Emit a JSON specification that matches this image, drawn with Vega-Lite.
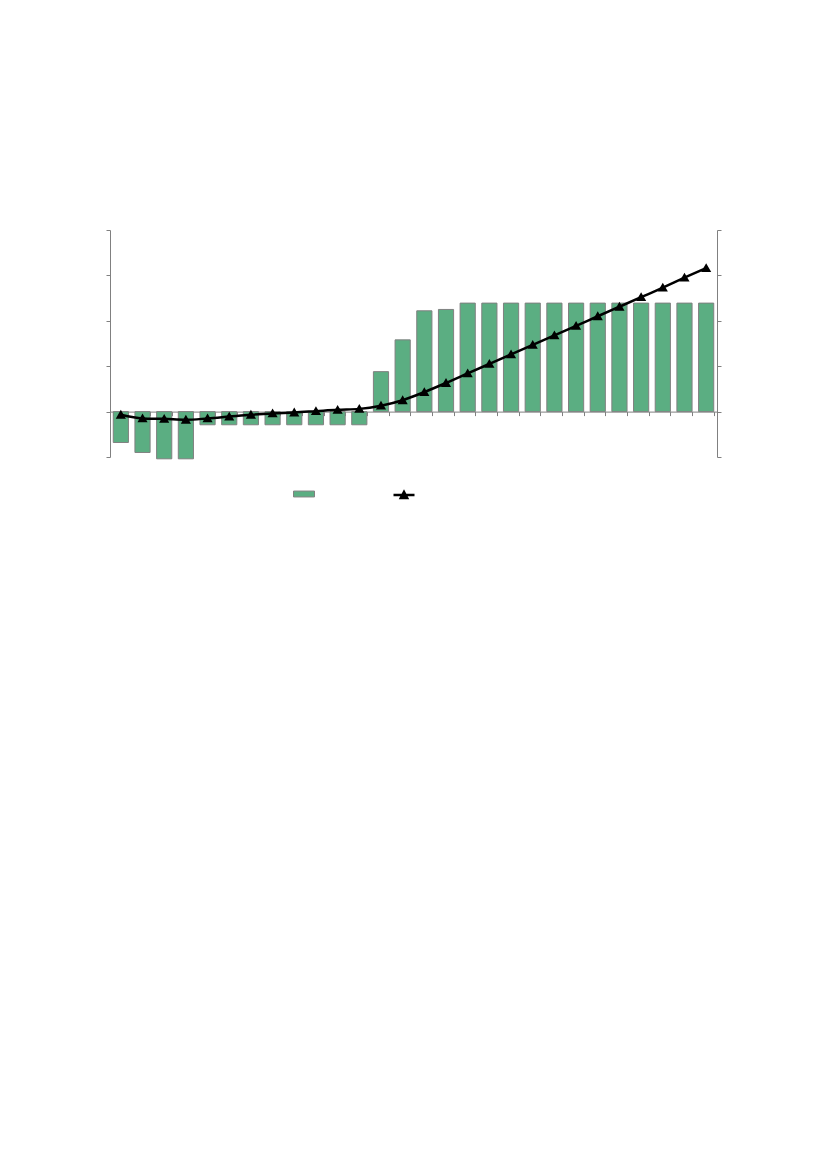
{
  "$schema": "https://vega.github.io/schema/vega-lite/v6.json",
  "autosize": "none",
  "padding": {"left": 110, "top": 230, "right": 110, "bottom": 712},
  "width": 607,
  "height": 227,
  "background": "white",
  "data": {
    "values": [
      {"i": 1, "bar": -0.68, "line": -0.07},
      {"i": 2, "bar": -0.9, "line": -0.15},
      {"i": 3, "bar": -1.04, "line": -0.16},
      {"i": 4, "bar": -1.04, "line": -0.18},
      {"i": 5, "bar": -0.29, "line": -0.15},
      {"i": 6, "bar": -0.29, "line": -0.11},
      {"i": 7, "bar": -0.29, "line": -0.07},
      {"i": 8, "bar": -0.29, "line": -0.04},
      {"i": 9, "bar": -0.29, "line": -0.02},
      {"i": 10, "bar": -0.29, "line": 0.01},
      {"i": 11, "bar": -0.29, "line": 0.04},
      {"i": 12, "bar": -0.29, "line": 0.06},
      {"i": 13, "bar": 0.88, "line": 0.13},
      {"i": 14, "bar": 1.58, "line": 0.25},
      {"i": 15, "bar": 2.22, "line": 0.43},
      {"i": 16, "bar": 2.25, "line": 0.63},
      {"i": 17, "bar": 2.39, "line": 0.84},
      {"i": 18, "bar": 2.39, "line": 1.05},
      {"i": 19, "bar": 2.39, "line": 1.26},
      {"i": 20, "bar": 2.39, "line": 1.47},
      {"i": 21, "bar": 2.39, "line": 1.68},
      {"i": 22, "bar": 2.39, "line": 1.89},
      {"i": 23, "bar": 2.39, "line": 2.1},
      {"i": 24, "bar": 2.39, "line": 2.31},
      {"i": 25, "bar": 2.39, "line": 2.52},
      {"i": 26, "bar": 2.39, "line": 2.73},
      {"i": 27, "bar": 2.39, "line": 2.95},
      {"i": 28, "bar": 2.39, "line": 3.16}
    ]
  },
  "encoding": {
    "x": {
      "field": "i",
      "type": "ordinal",
      "title": null,
      "scale": {"paddingInner": 0.3, "paddingOuter": 0.15},
      "axis": {
        "labels": false,
        "tickBand": "extent",
        "offset": -45.4,
        "tickSize": 4,
        "tickColor": "#808080",
        "domainColor": "#808080",
        "grid": false
      }
    }
  },
  "layer": [
    {
      "mark": {"type": "bar", "stroke": "#808080", "strokeWidth": 1, "clip": false},
      "encoding": {
        "y": {
          "field": "bar",
          "type": "quantitative",
          "title": null,
          "scale": {"domain": [-1, 4], "nice": false, "zero": true, "clamp": false},
          "axis": {
            "orient": "left",
            "values": [-1, 0, 1, 2, 3, 4],
            "labels": false,
            "grid": false,
            "tickSize": 4,
            "tickColor": "#808080",
            "domainColor": "#808080"
          }
        },
        "fill": {
          "datum": "Series 1",
          "scale": {"range": ["#5BAE82"]},
          "legend": {
            "orient": "none",
            "legendX": 183,
            "legendY": 253,
            "title": null,
            "labelExpr": "''",
            "symbolType": "M-1,-0.28H1V0.28H-1Z",
            "symbolSize": 441,
            "symbolStrokeColor": "#808080",
            "symbolStrokeWidth": 1,
            "symbolOpacity": 1
          }
        }
      }
    },
    {
      "mark": {
        "type": "line",
        "color": "black",
        "strokeWidth": 2.5,
        "interpolate": "monotone",
        "point": {"shape": "triangle-up", "filled": true, "size": 45, "color": "black"}
      },
      "encoding": {
        "y": {
          "field": "line",
          "type": "quantitative",
          "title": null,
          "scale": {"domain": [-1, 4], "nice": false},
          "axis": {
            "orient": "right",
            "values": [-1, 0, 1, 2, 3, 4],
            "labels": false,
            "grid": false,
            "tickSize": 4,
            "tickColor": "#808080",
            "domainColor": "#808080"
          }
        },
        "stroke": {
          "datum": "Series 2",
          "scale": {"range": ["black"]},
          "legend": {
            "orient": "none",
            "legendX": 282,
            "legendY": 253,
            "title": null,
            "labelExpr": "''",
            "symbolType": "M-1,0H1M-0.3,0.28L0,-0.3L0.3,0.28Z",
            "symbolSize": 441,
            "symbolFillColor": "black",
            "symbolStrokeWidth": 2.5
          }
        }
      }
    }
  ],
  "resolve": {"scale": {"y": "independent"}},
  "config": {"view": {"stroke": null}}
}
